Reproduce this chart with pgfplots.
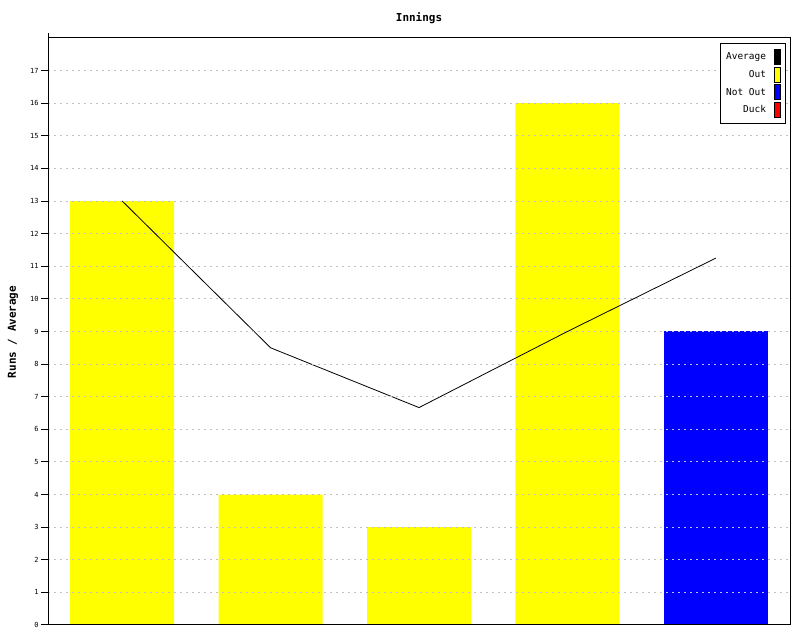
\documentclass[border=0pt]{standalone}
\usepackage{pgfplots}
\pgfplotsset{compat=1.18}
\usepackage{fontspec}
\setmainfont{DejaVu Sans Mono}
\definecolor{gridgray}{HTML}{C0C0C0}
\definecolor{pureyellow}{HTML}{FFFF00}
\definecolor{pureblue}{HTML}{0000FF}
\definecolor{purered}{HTML}{FF0000}
\begin{document}
\begin{tikzpicture}[x=1bp,y=1bp]
\useasboundingbox (0,0) rectangle (800,640);
\begin{axis}[
  at={(48bp,15bp)}, anchor=south west, scale only axis,
  width=742bp, height=587bp,
  xmin=-0.5, xmax=4.5, ymin=0, ymax=18,
  ytick={0,...,17}, xtick=\empty,
  ymajorgrids, grid style={dash pattern=on 2bp off 4bp, color=gridgray, line width=1bp},
  axis on top,
  axis line style={line width=1bp},
  tick style={black, line width=1bp}, major tick length=7bp, tick align=outside,
  ytick pos=left,
  yticklabel style={font=\fontsize{7}{8}\selectfont, xshift=1bp},
  /pgf/number format/assume math mode=true,
  legend style={at={(1,1)}, xshift=-4bp, yshift=-5bp, anchor=north east,
    font=\fontsize{9.5}{11}\selectfont, draw=black, line width=1bp,
    inner xsep=5bp, inner ysep=6bp, row sep=2bp, column sep=7bp,
    nodes={inner sep=1bp}},
  legend cell align=right,
  legend plot pos=right,
  legend image code/.code={\draw[#1,draw=black,line width=0.5bp] (0bp,-7.5bp) rectangle (6bp,7.5bp);},
]
\addplot[ybar, bar width=104bp, fill=pureyellow, draw=none, forget plot] coordinates {(0,13) (1,4) (2,3) (3,16)};
\addplot[ybar, bar width=104bp, fill=pureblue, draw=none, forget plot] coordinates {(4,9)};
\addplot[black, line width=0.8bp, mark=none, forget plot] coordinates {(0,13) (1,8.5) (2,6.6667) (3,9) (4,11.25)};
\addlegendimage{fill=black}
\addlegendentry{Average}
\addlegendimage{fill=pureyellow}
\addlegendentry{Out}
\addlegendimage{fill=pureblue}
\addlegendentry{Not Out}
\addlegendimage{fill=purered}
\addlegendentry{Duck}
\end{axis}
\node[font=\bfseries\fontsize{11}{12}\selectfont] at (419bp,622bp) {Innings};
\node[font=\bfseries\fontsize{11}{12}\selectfont, rotate=90] at (13bp,308bp) {Runs / Average};
\draw[line width=1bp] (48bp,602bp) -- (48bp,607bp);
\end{tikzpicture}
\end{document}
